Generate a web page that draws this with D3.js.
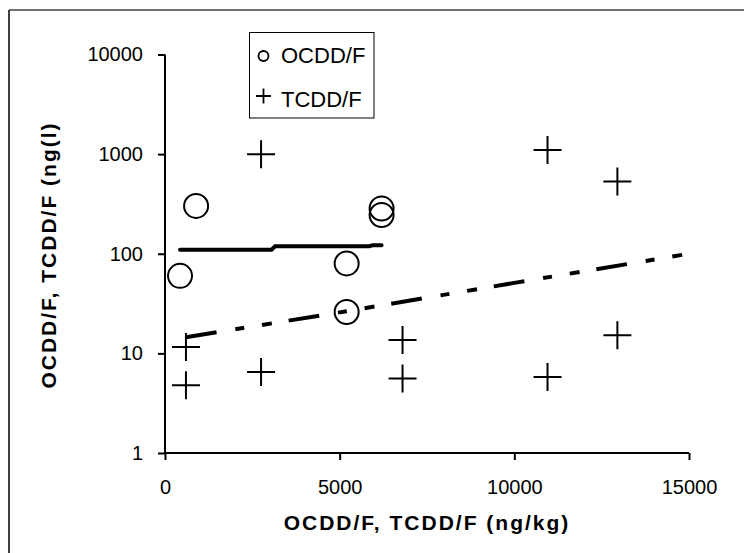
<!DOCTYPE html>
<html>
<head>
<meta charset="utf-8">
<script src="https://cdn.jsdelivr.net/npm/d3@7/dist/d3.min.js"></script>
<style>
  html, body { margin: 0; padding: 0; background: #fff; }
  svg { display: block; }
  text { font-family: "Liberation Sans", Arial, sans-serif; fill: #000; }
</style>
</head>
<body>
<svg id="chart" width="744" height="553"></svg>
<script>
// ---- data ----
const ocddX = [430, 890, 5200, 5200, 6200, 6200];
const ocddY = [60, 302, 80, 26, 285, 245];
const tcddX = [600, 600, 2750, 2750, 6800, 6800, 10950, 10950, 12950, 12950];
const tcddY = [11.6, 4.8, 6.5, 1000, 13.6, 5.6, 1100, 5.8, 530, 15.2];
const ocddTrendX = [430, 3050, 3150, 5850, 5950, 6200];
const ocddTrendY = [110, 110, 119, 119, 122, 122];
const tcddTrendX = [600, 5200, 10000, 15000];
const tcddTrendY = [14.5, 26.5, 51, 100];
const xTicks = [0, 5000, 10000, 15000];
const yTicks = [1, 10, 100, 1000, 10000];
const legendLabels = ["OCDD/F", "TCDD/F"];
const xTitle = "OCDD/F, TCDD/F (ng/kg)";
const yTitle = "OCDD/F, TCDD/F (ng(l)";

const svg = d3.select("#chart");

// outer frame (only top and left visible in reference)
svg.append("line").attr("x1", 9).attr("y1", 10).attr("x2", 744).attr("y2", 10)
  .attr("stroke", "#444").attr("stroke-width", 1.5);
svg.append("line").attr("x1", 9).attr("y1", 10).attr("x2", 9).attr("y2", 553)
  .attr("stroke", "#000").attr("stroke-width", 1.5);

const x = d3.scaleLinear().domain([0, 15000]).range([165, 689]);
const y = d3.scaleLog().domain([1, 10000]).range([453, 54.5]);

// axes
const xAxis = d3.axisBottom(x).tickValues(xTicks).tickSize(7).tickPadding(20)
  .tickFormat(d3.format("d"));
const gx = svg.append("g").attr("transform", `translate(0,${y(1)})`).call(xAxis);
gx.select(".domain").attr("d", `M${x(0)},0H${x(15000)}`).attr("stroke-width", 2);
gx.selectAll(".tick line").attr("stroke-width", 2);
gx.selectAll("text").attr("font-size", 20).attr("font-family", "Liberation Sans, Arial, sans-serif");

const yAxis = d3.axisLeft(y).tickValues(yTicks).tickSize(7).tickPadding(15)
  .tickFormat(d3.format("d"));
const gy = svg.append("g").attr("transform", `translate(${x(0)},0)`).call(yAxis);
gy.select(".domain").attr("d", `M0,${y(10000)}V${y(1)}`).attr("stroke-width", 2);
gy.selectAll(".tick line").attr("stroke-width", 2);
gy.selectAll("text").attr("font-size", 20).attr("font-family", "Liberation Sans, Arial, sans-serif");

// titles
svg.append("text").attr("x", 427).attr("y", 530).attr("text-anchor", "middle")
  .attr("font-size", 21).attr("font-weight", "bold").attr("letter-spacing", 2)
  .text(xTitle);
svg.append("text").attr("transform", "translate(56,255) rotate(-90)")
  .attr("text-anchor", "middle")
  .attr("font-size", 21).attr("font-weight", "bold").attr("letter-spacing", 2)
  .text(yTitle);

// trend lines
const line = d3.line().x(d => x(d[0])).y(d => y(d[1]));
svg.append("path").datum(ocddTrendX.map((v, i) => [v, ocddTrendY[i]]))
  .attr("d", line).attr("fill", "none").attr("stroke", "#000")
  .attr("stroke-width", 4).attr("stroke-linecap", "round");
svg.append("path").datum(tcddTrendX.map((v, i) => [v, tcddTrendY[i]]))
  .attr("d", line).attr("fill", "none").attr("stroke", "#000")
  .attr("stroke-width", 4).attr("stroke-dasharray", "31,19,9,18,10,17");

// OCDD circles
svg.append("g").selectAll("circle").data(ocddX.map((v, i) => [v, ocddY[i]]))
  .join("circle").attr("cx", d => x(d[0])).attr("cy", d => y(d[1])).attr("r", 12)
  .attr("fill", "none").attr("stroke", "#000").attr("stroke-width", 2);

// TCDD plus
const ph = 14;
svg.append("g").selectAll("path").data(tcddX.map((v, i) => [v, tcddY[i]]))
  .join("path")
  .attr("d", d => { const cx = x(d[0]), cy = y(d[1]);
    return `M${cx - ph},${cy}H${cx + ph}M${cx},${cy - ph}V${cy + ph}`; })
  .attr("stroke", "#000").attr("stroke-width", 2).attr("fill", "none");

// legend
const lg = svg.append("g");
lg.append("rect").attr("x", 249.5).attr("y", 32.5).attr("width", 124.5).attr("height", 85.5)
  .attr("fill", "#fff").attr("stroke", "#000").attr("stroke-width", 1);
lg.append("circle").attr("cx", 263.5).attr("cy", 56).attr("r", 5)
  .attr("fill", "none").attr("stroke", "#000").attr("stroke-width", 1.8);
lg.append("path").attr("d", "M256,96H271M263.5,88.5V103.5")
  .attr("stroke", "#000").attr("stroke-width", 1.8);
lg.selectAll("text").data(legendLabels).join("text")
  .attr("x", 281).attr("y", (d, i) => 63 + i * 43.5)
  .attr("font-size", 22).text(d => d);
</script>
</body>
</html>
